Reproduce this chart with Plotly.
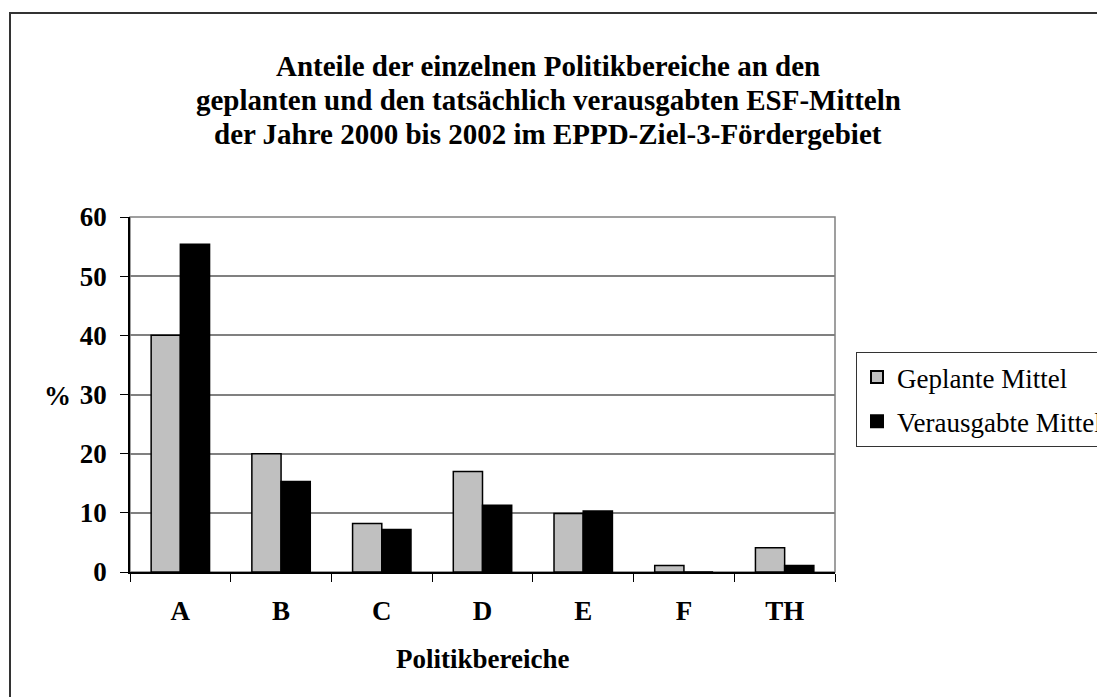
import plotly.graph_objects as go

categories = ["A", "B", "C", "D", "E", "F", "TH"]
geplant = [40.0, 20.0, 8.2, 17.0, 9.9, 1.1, 4.1]
verausgabt = [55.4, 15.3, 7.2, 11.3, 10.3, 0.0, 1.1]
series_names = ["Geplante Mittel", "Verausgabte Mittel"]
title_lines = [
    "Anteile der einzelnen Politikbereiche an den",
    "geplanten und den tatsächlich verausgabten ESF-Mitteln",
    "der Jahre 2000 bis 2002 im EPPD-Ziel-3-Fördergebiet",
]
y_ticks = [0, 10, 20, 30, 40, 50, 60]

OFF = 8  # page body margin
W, H = 1105 - OFF, 697 - OFF
# plot area in screenshot pixels
SL, SR, ST, SB = 130, 835, 217, 572
L, R, T, B = SL - OFF, SR - OFF, ST - OFF, SB - OFF
pw, ph = R - L, B - T

def px_x(sx):
    return (sx - SL) / pw

def px_y(sy):
    return (SB - sy) / ph

FONT = "Liberation Serif"

fig = go.Figure()
fig.add_trace(go.Bar(
    x=categories, y=geplant, name=series_names[0],
    marker=dict(color="#C0C0C0", line=dict(color="black", width=1.5)),
    legendgroup="g1",
))
fig.add_trace(go.Bar(
    x=categories, y=verausgabt, name=series_names[1],
    marker=dict(color="black", line=dict(color="black", width=1.5)),
    legendgroup="g2",
))

annotations = []
for line, yp in zip(title_lines, [66, 100, 134]):
    annotations.append(dict(
        text="<b>" + line + "</b>", xref="paper", yref="paper",
        x=px_x(548), y=px_y(yp), xanchor="center", yanchor="middle",
        showarrow=False, font=dict(family=FONT, size=29, color="black"),
    ))
annotations.append(dict(
    text="<b>%</b>", xref="paper", yref="paper", x=px_x(57), y=px_y(396),
    xanchor="center", yanchor="middle", showarrow=False,
    font=dict(family=FONT, size=27, color="black"),
))
annotations.append(dict(
    text="<b>Politikbereiche</b>", xref="paper", yref="paper", x=0.5, y=px_y(659),
    xanchor="center", yanchor="middle", showarrow=False,
    font=dict(family=FONT, size=27, color="black"),
))

shapes = [
    # outer frame
    dict(type="rect", xref="paper", yref="paper",
         x0=px_x(10), y0=px_y(760), x1=px_x(1160), y1=px_y(13),
         line=dict(color="#333333", width=2), layer="below"),
    # plot area border
    dict(type="rect", xref="paper", yref="paper", x0=0, y0=0, x1=1, y1=1,
         line=dict(color="#808080", width=1.5), layer="below"),
]

fig.update_layout(
    width=W, height=H,
    margin=dict(l=L, r=W - R, t=T, b=H - B, autoexpand=False),
    paper_bgcolor="white", plot_bgcolor="white",
    barmode="group", bargap=0.42, bargroupgap=0,
    showlegend=True,
    legend=dict(
        x=px_x(856), y=px_y(352), xanchor="left", yanchor="top",
        bordercolor="#333333", borderwidth=1, bgcolor="white",
        font=dict(family=FONT, size=27, color="black"),
        tracegroupgap=6, itemsizing="constant",
    ),
    annotations=annotations,
    shapes=shapes,
)
fig.update_xaxes(
    type="category", tickson="boundaries", ticks="outside", ticklen=8,
    tickcolor="black", showline=True, linecolor="black", linewidth=1.5,
    showgrid=False, ticklabelstandoff=14,
    tickfont=dict(family=FONT, size=27, color="black", weight="bold"),
)
fig.update_yaxes(
    range=[0, 60], tickvals=y_ticks, ticks="outside", ticklen=8,
    tickcolor="black", showline=True, linecolor="black", linewidth=1.5,
    showgrid=True, gridcolor="#808080", gridwidth=1.5, zeroline=False,
    ticklabelstandoff=8,
    tickfont=dict(family=FONT, size=27, color="black", weight="bold"),
)

fig.write_html("out.html")
